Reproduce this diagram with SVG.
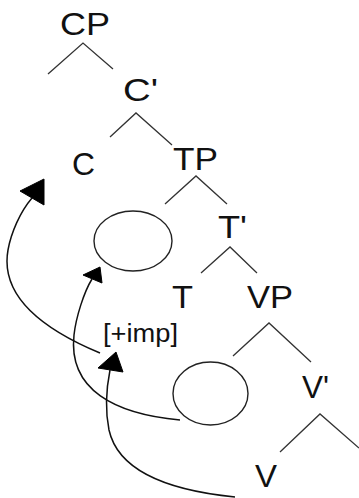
<svg xmlns="http://www.w3.org/2000/svg" width="359" height="498" viewBox="0 0 359 498">
<style>
.lbl{font-family:"Liberation Sans",Arial,sans-serif;font-size:31px;fill:#111}
.feat{font-family:"Liberation Sans",Arial,sans-serif;font-size:26px;fill:#111}
.br{fill:none;stroke:#333;stroke-width:1.3}
.mv{fill:none;stroke:#111;stroke-width:1.5}
.head{fill:#000;stroke:#000;stroke-width:1}
.gap{fill:none;stroke:#222;stroke-width:1.4}
</style>
<rect width="359" height="498" fill="#fff"/>
<g id="connectors">
<polyline class="br" points="48,74 83,43 113,69"/>
<polyline class="br" points="110,137 136,113 172,145"/>
<polyline class="br" points="165,204 196,176 227,204"/>
<polyline class="br" points="201,273 230,247 257,273"/>
<polyline class="br" points="233,356 269,323 311,362"/>
<polyline class="br" points="280,452 320,414 359,448"/>
<path class="mv" d="M100,353 C40,328 0,295 8,250 C11,233 20,212 32,198"/>
<polygon class="head" points="44,179 20,191 44,205"/>
<path class="mv" d="M180,420 C115,414 68,390 74,335 C76,317 84,292 92,279"/>
<polygon class="head" points="100,267 83,275 102,283"/>
<path class="mv" d="M235,497 C165,490 118,470 109,430 C105,410 106,390 110,370"/>
<polygon class="head" points="116,352 98,368 123,372"/>
</g>
<g id="CP"><text class="lbl" x="60" y="35" textLength="50" lengthAdjust="spacingAndGlyphs">CP</text></g>
<g id="C-bar"><text class="lbl" x="123" y="101" textLength="35" lengthAdjust="spacingAndGlyphs">C'</text></g>
<g id="C"><text class="lbl" x="72" y="175" textLength="23" lengthAdjust="spacingAndGlyphs">C</text></g>
<g id="TP"><text class="lbl" x="173" y="170" textLength="45" lengthAdjust="spacingAndGlyphs">TP</text></g>
<g id="spec-TP"><ellipse class="gap" cx="133" cy="241" rx="39" ry="30"/></g>
<g id="T-bar"><text class="lbl" x="218" y="238" textLength="29" lengthAdjust="spacingAndGlyphs">T'</text></g>
<g id="T"><text class="lbl" x="172" y="308" textLength="21" lengthAdjust="spacingAndGlyphs">T</text></g>
<g id="imp"><text class="feat" x="103" y="342" textLength="75" lengthAdjust="spacingAndGlyphs">[+imp]</text></g>
<g id="VP"><text class="lbl" x="247" y="308" textLength="46" lengthAdjust="spacingAndGlyphs">VP</text></g>
<g id="spec-VP"><ellipse class="gap" cx="210.5" cy="393.5" rx="37.5" ry="31.5"/></g>
<g id="V-bar"><text class="lbl" x="302" y="398" textLength="27" lengthAdjust="spacingAndGlyphs">V'</text></g>
<g id="V"><text class="lbl" x="255" y="487" textLength="22" lengthAdjust="spacingAndGlyphs">V</text></g>
</svg>
